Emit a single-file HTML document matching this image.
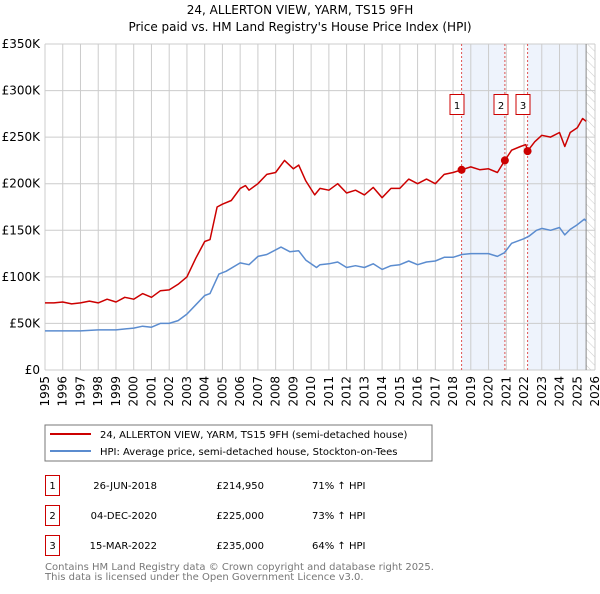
<!DOCTYPE html>
<html><head><meta charset="utf-8">
<style>
body{margin:0;background:#fff;width:600px;height:590px;overflow:hidden;font-family:"DejaVu Sans","Liberation Sans",sans-serif;}
svg text{font-family:"DejaVu Sans","Liberation Sans",sans-serif;}
</style></head><body>
<svg id="c" width="600" height="590" xmlns="http://www.w3.org/2000/svg">
<defs><pattern id="hatch" width="6" height="6" patternUnits="userSpaceOnUse" patternTransform="rotate(-45)"><line x1="0" y1="0" x2="0" y2="6" stroke="#ccc" stroke-width="1"/></pattern></defs>
<text x="300" y="14" text-anchor="middle" font-size="12">24, ALLERTON VIEW, YARM, TS15 9FH</text>
<text x="300" y="31" text-anchor="middle" font-size="12">Price paid vs. HM Land Registry's House Price Index (HPI)</text>
<g id="plot"></g>
<rect x="45" y="425" width="387" height="36" fill="#fff" stroke="#777"/>
<line x1="50" y1="434" x2="91" y2="434" stroke="#cc0000" stroke-width="2"/>
<text x="100" y="438" font-size="10">24, ALLERTON VIEW, YARM, TS15 9FH (semi-detached house)</text>
<line x1="50" y1="451" x2="91" y2="451" stroke="#5b8ccf" stroke-width="2"/>
<text x="100" y="455" font-size="10">HPI: Average price, semi-detached house, Stockton-on-Tees</text>
<g font-size="10">
<rect x="45.5" y="475.5" width="14" height="20" fill="none" stroke="#cc0000"/><text x="52.5" y="489" text-anchor="middle">1</text>
<text x="157" y="489" text-anchor="end">26-JUN-2018</text><text x="264" y="489" text-anchor="end">£214,950</text><text x="312" y="489">71% ↑ HPI</text>
<rect x="45.5" y="505.5" width="14" height="20" fill="none" stroke="#cc0000"/><text x="52.5" y="519" text-anchor="middle">2</text>
<text x="157" y="519" text-anchor="end">04-DEC-2020</text><text x="264" y="519" text-anchor="end">£225,000</text><text x="312" y="519">73% ↑ HPI</text>
<rect x="45.5" y="535.5" width="14" height="20" fill="none" stroke="#cc0000"/><text x="52.5" y="549" text-anchor="middle">3</text>
<text x="157" y="549" text-anchor="end">15-MAR-2022</text><text x="264" y="549" text-anchor="end">£235,000</text><text x="312" y="549">64% ↑ HPI</text>
</g>
<text x="45" y="570" font-size="10" fill="#777">Contains HM Land Registry data © Crown copyright and database right 2025.</text>
<text x="45" y="580" font-size="10" fill="#777">This data is licensed under the Open Government Licence v3.0.</text>
</svg>
<script>
const yTicks=[0,50,100,150,200,250,300,350];
const yTickLabels=["£0","£50K","£100K","£150K","£200K","£250K","£300K","£350K"];
const years=[1995,1996,1997,1998,1999,2000,2001,2002,2003,2004,2005,2006,2007,2008,2009,2010,2011,2012,2013,2014,2015,2016,2017,2018,2019,2020,2021,2022,2023,2024,2025,2026];
const redT=[1995,1995.5,1996,1996.5,1997,1997.5,1998,1998.5,1999,1999.5,2000,2000.5,2001,2001.5,2002,2002.5,2003,2003.5,2004,2004.3,2004.7,2005,2005.5,2006,2006.3,2006.5,2007,2007.5,2008,2008.5,2009,2009.3,2009.7,2010.2,2010.5,2011,2011.5,2012,2012.5,2013,2013.5,2014,2014.5,2015,2015.5,2016,2016.5,2017,2017.5,2018,2018.48,2019,2019.5,2020,2020.5,2020.92,2021.3,2021.8,2022.1,2022.2,2022.6,2023,2023.5,2024,2024.3,2024.6,2025,2025.3,2025.5];
const redV=[72,72,73,71,72,74,72,76,73,78,76,82,78,85,86,92,100,120,138,140,175,178,182,195,198,193,200,210,212,225,216,220,203,188,195,193,200,190,193,188,196,185,195,195,205,200,205,200,210,212,214.95,218,215,216,212,225,236,240,242,235,245,252,250,255,240,255,260,270,267];
const blueT=[1995,1996,1997,1998,1999,2000,2000.5,2001,2001.5,2002,2002.5,2003,2003.5,2004,2004.3,2004.8,2005.2,2006,2006.5,2007,2007.5,2008.3,2008.8,2009.3,2009.7,2010.3,2010.5,2011,2011.5,2012,2012.5,2013,2013.5,2014,2014.5,2015,2015.5,2016,2016.5,2017,2017.5,2018,2018.5,2019,2019.5,2020,2020.5,2020.9,2021.3,2022,2022.3,2022.7,2023,2023.5,2024,2024.3,2024.6,2025,2025.4,2025.5];
const blueV=[42,42,42,43,43,45,47,46,50,50,53,60,70,80,82,103,106,115,113,122,124,132,127,128,118,110,113,114,116,110,112,110,114,108,112,113,117,113,116,117,121,121,124,125,125,125,122,126,136,141,144,150,152,150,153,145,151,156,162,160];
const saleT=[2018.48,2020.92,2022.2];
const saleV=[214.95,225,235];
const saleLabels=["1","2","3"];

const L=45,R=595,T=44,B=370,x0=1995,x1=2026,yMax=350;
const X=t=>L+(t-x0)*(R-L)/(x1-x0);
const Y=v=>B-v*(B-T)/yMax;
const NS="http://www.w3.org/2000/svg";
const g=document.getElementById('plot');
function mk(tag,attrs,parent){const e=document.createElementNS(NS,tag);for(const k in attrs)e.setAttribute(k,attrs[k]);(parent||g).appendChild(e);return e;}

// shaded periods
let s1=mk('rect',{x:X(saleT[0]),y:T,width:X(saleT[1])-X(saleT[0]),height:B-T,fill:'#eef3fc'});


let s2=mk('rect',{x:X(saleT[2]),y:T,width:X(2025.5)-X(saleT[2]),height:B-T,fill:'#eef3fc'});


let h=mk('rect',{x:X(2025.5),y:T,width:R-X(2025.5),height:B-T,fill:'url(#hatch)'});



// grid
years.forEach(yr=>{
  const l=mk('line',{x1:X(yr),y1:T,x2:X(yr),y2:B,stroke:'#ccc','stroke-width':1});
  
  
  const t=mk('text',{x:0,y:0,'font-size':12,'text-anchor':'end',transform:`translate(${X(yr)+4},${B+6}) rotate(-90)`});
  t.textContent=yr;
  
  
});
yTicks.forEach((v,i)=>{
  const l=mk('line',{x1:L,y1:Y(v),x2:R,y2:Y(v),stroke:'#ccc','stroke-width':1});
  
  
  const t=mk('text',{x:L-5,y:Y(v)+4,'font-size':12,'text-anchor':'end'});
  t.textContent=yTickLabels[i];
  
  
});
let nl=mk('line',{x1:X(2025.5),y1:T,x2:X(2025.5),y2:B,stroke:'#888','stroke-width':1});



// sale vlines and labels
saleT.forEach((t,i)=>{
  const l=mk('line',{x1:X(t),y1:T,x2:X(t),y2:B,stroke:'#e05555','stroke-width':1,'stroke-dasharray':'2,2'});
  
  
  const bx=X(t)-(i==0?22:i==1?0:0);
});
const boxX=[X(saleT[0])-3,X(saleT[1])-1,X(saleT[2])-3];
saleLabels.forEach((lab,i)=>{
  const cx=[457,501,523][i];
  const r=mk('rect',{x:cx-7,y:94.5,width:14,height:20,fill:'#fff',stroke:'#cc0000'});
  
  
  const t=mk('text',{x:cx,y:109,'font-size':10,'text-anchor':'middle'});
  t.textContent=lab;
  
  
});

function line(ts,vs,color,name){
  const d=ts.map((t,i)=>(i?'L':'M')+X(t).toFixed(1)+','+Y(vs[i]).toFixed(1)).join('');
  const p=mk('path',{d:d,fill:'none',stroke:color,'stroke-width':1.5,'stroke-linejoin':'round'});
  
  
}
line(blueT,blueV,'#5b8ccf','hpi-line');
line(redT,redV,'#cc0000','property-line');
saleT.forEach((t,i)=>{
  const c=mk('circle',{cx:X(t),cy:Y(saleV[i]),r:4,fill:'#cc0000'});
  
  
});
</script>
</body></html>
